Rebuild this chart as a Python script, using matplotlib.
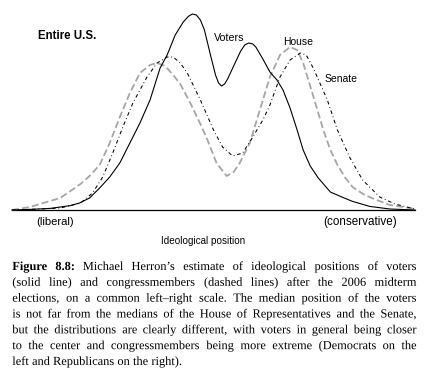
import numpy as np
import matplotlib
matplotlib.use("Agg")
import matplotlib.pyplot as plt
import matplotlib.patheffects as pe

# ---------------- data ----------------
voters_x = [-2.00, -1.82, -1.62, -1.42, -1.33, -1.23, -1.13, -1.03, -0.93, -0.83,
            -0.73, -0.63, -0.53, -0.46, -0.38, -0.30, -0.25, -0.21, -0.17, -0.13,
            -0.09, -0.03, 0.02, 0.05, 0.08, 0.11, 0.14, 0.20, 0.27, 0.31, 0.35,
            0.39, 0.42, 0.49, 0.56, 0.63, 0.69, 0.76, 0.83, 0.89, 0.96, 1.04,
            1.16, 1.26, 1.38, 1.55, 1.75, 2.00]
voters_y = [0.000, 0.003, 0.008, 0.022, 0.035, 0.060, 0.110, 0.165, 0.235, 0.335,
            0.435, 0.550, 0.710, 0.775, 0.875, 0.940, 0.968, 0.980, 0.975, 0.950,
            0.900, 0.775, 0.675, 0.635, 0.620, 0.630, 0.655, 0.720, 0.795, 0.825, 0.835,
            0.830, 0.815, 0.755, 0.690, 0.650, 0.600, 0.510, 0.400, 0.300, 0.220, 0.160,
            0.090, 0.068, 0.043, 0.018, 0.005, 0.000]

house_x = [-2.00, -1.82, -1.69, -1.52, -1.32, -1.23, -1.13, -1.03, -0.93, -0.83,
           -0.73, -0.63, -0.56, -0.48, -0.40, -0.33, -0.23, -0.13, -0.06, 0.03,
           0.13, 0.20, 0.26, 0.36, 0.46, 0.56, 0.66, 0.76, 0.83, 0.89, 0.99,
           1.09, 1.16, 1.23, 1.31, 1.38, 1.50, 1.62, 1.75, 1.88, 2.00]
house_y = [0.000, 0.015, 0.035, 0.060, 0.130, 0.170, 0.225, 0.335, 0.465, 0.585,
           0.685, 0.725, 0.735, 0.720, 0.675, 0.630, 0.535, 0.430, 0.350, 0.235,
           0.170, 0.190, 0.235, 0.335, 0.500, 0.665, 0.775, 0.815, 0.800, 0.735, 0.570,
           0.400, 0.300, 0.225, 0.160, 0.115, 0.075, 0.050, 0.025, 0.015, 0.005]

senate_x = [-2.00, -1.72, -1.52, -1.32, -1.20, -1.10, -1.00, -0.90, -0.80, -0.66,
            -0.56, -0.46, -0.40, -0.33, -0.26, -0.13, 0.00, 0.09, 0.19, 0.29,
            0.39, 0.49, 0.56, 0.66, 0.76, 0.86, 0.92, 0.99, 1.06, 1.13, 1.23,
            1.35, 1.48, 1.65, 1.80, 2.00]
senate_y = [0.000, 0.005, 0.010, 0.035, 0.085, 0.165, 0.285, 0.415, 0.535, 0.665,
            0.735, 0.765, 0.765, 0.735, 0.685, 0.550, 0.400, 0.315, 0.270, 0.285,
            0.365, 0.450, 0.525, 0.665, 0.750, 0.785, 0.775, 0.710, 0.630, 0.550, 0.400,
            0.265, 0.150, 0.065, 0.030, 0.005]

series_labels = ["Voters", "House", "Senate"]
panel_title = "Entire U.S."
left_label = "(liberal)"
right_label = "(conservative)"
axis_label = "Ideological position"

caption_lines = [
    "Figure 8.8: Michael Herron\u2019s estimate of ideological positions of voters",
    "(solid line) and congressmembers (dashed lines) after the 2006 midterm",
    "elections, on a common left\u2013right scale. The median position of the voters",
    "is not far from the medians of the House of Representatives and the Senate,",
    "but the distributions are clearly different, with voters in general being closer",
    "to the center and congressmembers being more extreme (Democrats on the",
    "left and Republicans on the right).",
]

# ---------------- figure ----------------
W, H = 430, 373
plt.rcParams["lines.scale_dashes"] = False
fig = plt.figure(figsize=(W / 100, H / 100), dpi=100)
fig.patch.set_facecolor("white")


def fx(px):
    return px / W


def fy(py):
    return 1 - py / H


# axes: x -2..2 -> px 12..415 ; y 0..1 -> py 210..10
ax = fig.add_axes([fx(12), fy(210), (415 - 12) / W, 200 / H])
ax.set_xlim(-2, 2)
ax.set_ylim(0, 1)
ax.axis("off")

ax.plot([-2, 2], [0, 0], color="black", lw=0.9, clip_on=False, zorder=1)
ax.plot(house_x, house_y, color="#a6a6a6", lw=1.3, dashes=(5.0, 2.3),
        clip_on=False, zorder=2)
ax.plot(senate_x, senate_y, color="black", lw=0.75,
        dashes=(2.6, 2.0, 0.6, 2.0), clip_on=False, zorder=3)
ax.plot(voters_x, voters_y, color="black", lw=0.8, clip_on=False, zorder=4)

sans = "Liberation Sans"
fig.text(fx(38), fy(38.7), panel_title, fontsize=8.3, fontweight="bold",
         family=sans, va="baseline", ha="left")
fig.text(fx(214), fy(41), series_labels[0], fontsize=7.7, family=sans,
         va="baseline", ha="left")
fig.text(fx(283), fy(45), series_labels[1], fontsize=7.5, family=sans,
         va="baseline", ha="left")
fig.text(fx(325), fy(81.5), series_labels[2], fontsize=7.5, family=sans,
         va="baseline", ha="left")
fig.text(fx(36), fy(225), left_label, fontsize=8.1, family=sans,
         va="baseline", ha="left")
fig.text(fx(397), fy(225), right_label, fontsize=8.4, family=sans,
         va="baseline", ha="right")
fig.text(fx(203), fy(243.5), axis_label, fontsize=7.1, family=sans,
         va="baseline", ha="center")

# ---------------- justified caption (one Text per word) ----------------
serif = "Liberation Serif"
renderer = fig.canvas.get_renderer()
left_px, right_px = 12.3, 416.7
target = right_px - left_px
base0, lead = 270.0, 15.83
cap_fs = 8.9
as_path = [pe.Normal()]   # draw glyphs as paths -> exact common baseline


def measure(s, weight="normal"):
    t = fig.text(0, 0, s, fontsize=cap_fs, family=serif, fontweight=weight)
    w = t.get_window_extent(renderer).width
    t.remove()
    return w


space_nat = measure("x x") - measure("xx")
for i, line in enumerate(caption_lines):
    words = line.split(" ")
    weights = ["bold" if (i == 0 and j < 2) else "normal"
               for j in range(len(words))]
    widths = [measure(w, wt) for w, wt in zip(words, weights)]
    if i == len(caption_lines) - 1:
        gap = space_nat
    else:
        gap = (target - sum(widths)) / (len(words) - 1)
    x = left_px
    yb = base0 + lead * i
    for w, wt, wd in zip(words, weights, widths):
        fig.text(fx(x), fy(yb), w, fontsize=cap_fs, family=serif,
                 fontweight=wt, va="baseline", ha="left",
                 path_effects=as_path)
        x += wd + gap

fig.savefig("out.png", dpi=100)
